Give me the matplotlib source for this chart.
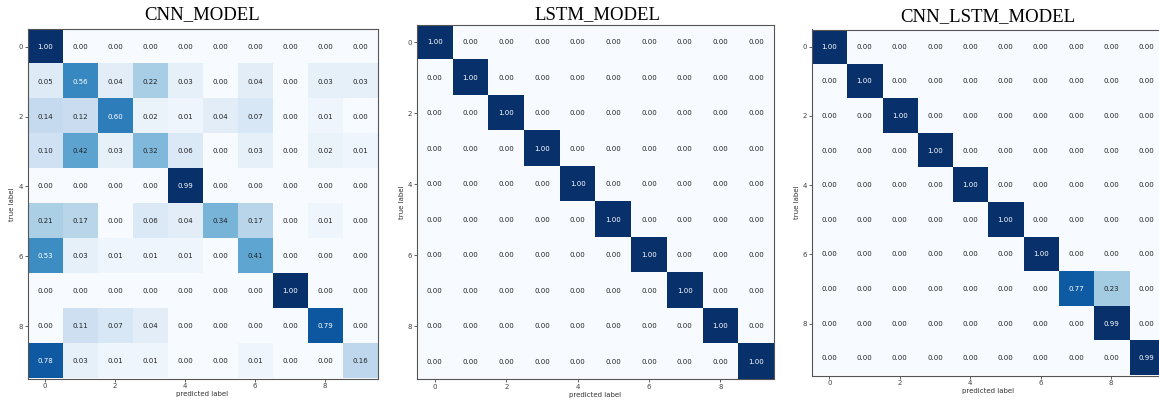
import matplotlib.pyplot as plt
import matplotlib.colors as mcolors
import numpy as np

# normalized confusion matrices (rows = true label, cols = predicted label)
cnn_cm = np.array([
    [1.00, 0.00, 0.00, 0.00, 0.00, 0.00, 0.00, 0.00, 0.00, 0.00],
    [0.05, 0.56, 0.04, 0.22, 0.03, 0.00, 0.04, 0.00, 0.03, 0.03],
    [0.14, 0.12, 0.60, 0.02, 0.01, 0.04, 0.07, 0.00, 0.01, 0.00],
    [0.10, 0.42, 0.03, 0.32, 0.06, 0.00, 0.03, 0.00, 0.02, 0.01],
    [0.00, 0.00, 0.00, 0.00, 0.99, 0.00, 0.00, 0.00, 0.00, 0.00],
    [0.21, 0.17, 0.00, 0.06, 0.04, 0.34, 0.17, 0.00, 0.01, 0.00],
    [0.53, 0.03, 0.01, 0.01, 0.01, 0.00, 0.41, 0.00, 0.00, 0.00],
    [0.00, 0.00, 0.00, 0.00, 0.00, 0.00, 0.00, 1.00, 0.00, 0.00],
    [0.00, 0.11, 0.07, 0.04, 0.00, 0.00, 0.00, 0.00, 0.79, 0.00],
    [0.78, 0.03, 0.01, 0.01, 0.00, 0.00, 0.01, 0.00, 0.00, 0.16],
])

lstm_diag = [1.00, 1.00, 1.00, 1.00, 1.00, 1.00, 1.00, 1.00, 1.00, 1.00]
lstm_cm = np.diag(lstm_diag)

cnn_lstm_cm = np.array([
    [1.00, 0.00, 0.00, 0.00, 0.00, 0.00, 0.00, 0.00, 0.00, 0.00],
    [0.00, 1.00, 0.00, 0.00, 0.00, 0.00, 0.00, 0.00, 0.00, 0.00],
    [0.00, 0.00, 1.00, 0.00, 0.00, 0.00, 0.00, 0.00, 0.00, 0.00],
    [0.00, 0.00, 0.00, 1.00, 0.00, 0.00, 0.00, 0.00, 0.00, 0.00],
    [0.00, 0.00, 0.00, 0.00, 1.00, 0.00, 0.00, 0.00, 0.00, 0.00],
    [0.00, 0.00, 0.00, 0.00, 0.00, 1.00, 0.00, 0.00, 0.00, 0.00],
    [0.00, 0.00, 0.00, 0.00, 0.00, 0.00, 1.00, 0.00, 0.00, 0.00],
    [0.00, 0.00, 0.00, 0.00, 0.00, 0.00, 0.00, 0.77, 0.23, 0.00],
    [0.00, 0.00, 0.00, 0.00, 0.00, 0.00, 0.00, 0.00, 0.99, 0.00],
    [0.00, 0.00, 0.00, 0.00, 0.00, 0.00, 0.00, 0.00, 0.00, 0.99],
])

titles = ["CNN_MODEL", "LSTM_MODEL", "CNN_LSTM_MODEL"]
tick_pos = [0, 2, 4, 6, 8]

W, H = 1159, 403
fig = plt.figure(figsize=(W / 100, H / 100), dpi=100)

# axes boxes in pixels: left, top, right, bottom
boxes = [(27.5, 29.2, 377.5, 378.5),
         (417, 24.6, 774, 379.4),
         (811.7, 29.5, 1164, 375.5)]
title_pos = [(202, 15), (597, 14.5), (988, 16.5)]

for cm, title, (l, t, r, b), (tx, ty) in zip(
        [cnn_cm, lstm_cm, cnn_lstm_cm], titles, boxes, title_pos):
    ax = fig.add_axes([l / W, 1 - b / H, (r - l) / W, (b - t) / H])
    ax.imshow(cm, cmap="Blues", norm=mcolors.PowerNorm(0.7, vmin=0, vmax=1),
              aspect="auto", interpolation="nearest")
    thresh = cm.max() / 2.0
    for i in range(cm.shape[0]):
        for j in range(cm.shape[1]):
            ax.text(j, i, format(cm[i, j], ".2f"), ha="center", va="center",
                    fontsize=5, color="white" if cm[i, j] > thresh else "#222222")
    ax.set_xticks(tick_pos)
    ax.set_yticks(tick_pos)
    ax.tick_params(labelsize=5, length=2, width=0.6, pad=1.5, colors="#444444")
    ax.set_xlabel("predicted label", fontsize=5, labelpad=1, color="#333333")
    ax.set_ylabel("true label", fontsize=5, labelpad=2, color="#333333")
    for s in ax.spines.values():
        s.set_color("#555555")
        s.set_linewidth(0.8)
    fig.text(tx / W, 1 - ty / H, title, ha="center", va="center",
             fontsize=13.5, family="Liberation Serif")

fig.savefig("out.png", dpi=100)
